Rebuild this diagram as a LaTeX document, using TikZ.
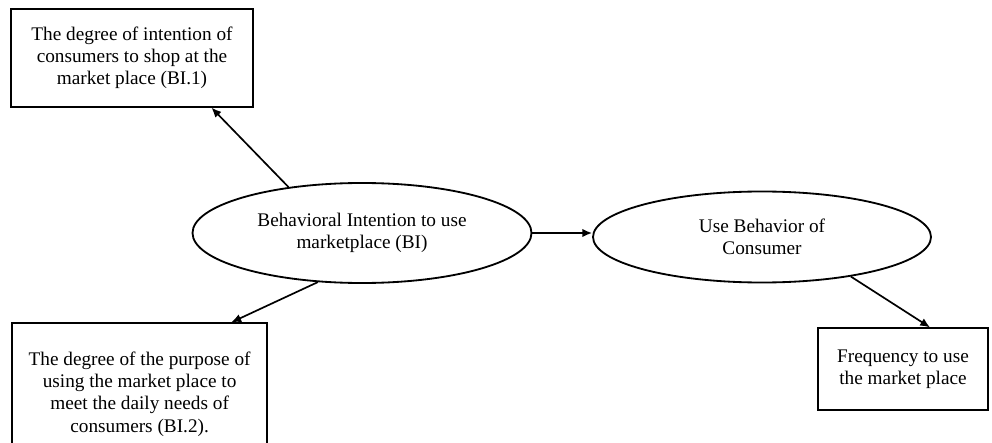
\documentclass[tikz,border=0pt]{standalone}
\usepackage{fontspec}
\setmainfont{Liberation Serif}
\usetikzlibrary{shapes.geometric,arrows.meta}
\tikzset{
  box/.style={draw, line width=0.9pt, align=center, inner sep=0pt,
    font=\fontsize{13.7}{15.8}\selectfont},
  oval/.style={draw, ellipse, line width=1.3pt, align=center, inner sep=0pt,
    font=\fontsize{13.7}{15.8}\selectfont},
}
\begin{document}
\begin{tikzpicture}[>={Latex[length=7pt,width=6pt]}, line width=1.2pt]
    \clip (0,0) rectangle (24.8,11.05);
    \node[box, minimum width=6.05cm, minimum height=2.45cm] (bi1) at (3.3,9.6)
      {The degree of intention of\\consumers to shop at the\\market place (BI.1)};
    \node[box, minimum width=6.375cm, minimum height=3.55cm] (bi2) at (3.49,1.2)
      {The degree of the purpose of\\using the market place to\\meet the daily needs of\\consumers (BI.2).};
    \node[oval, minimum width=8.475cm, minimum height=2.5cm] (bi) at (9.05,5.225)
      {Behavioral Intention to use\\marketplace (BI)};
    \node[oval, minimum width=8.45cm, minimum height=2.275cm] (ub) at (19.05,5.125)
      {Use Behavior of\\Consumer};
    \node[box, minimum width=4.25cm, minimum height=2.05cm] (freq) at (22.575,1.825)
      {Frequency to use\\the market place};
    \draw[->] (bi.148) -- (bi1.-32);
    \draw[->] (bi.228) -- (bi2.38);
    \draw[->] (bi.east) -- (bi.east -| ub.west);
    \draw[->] (ub.-24) -- (freq.57);
\end{tikzpicture}
\end{document}
